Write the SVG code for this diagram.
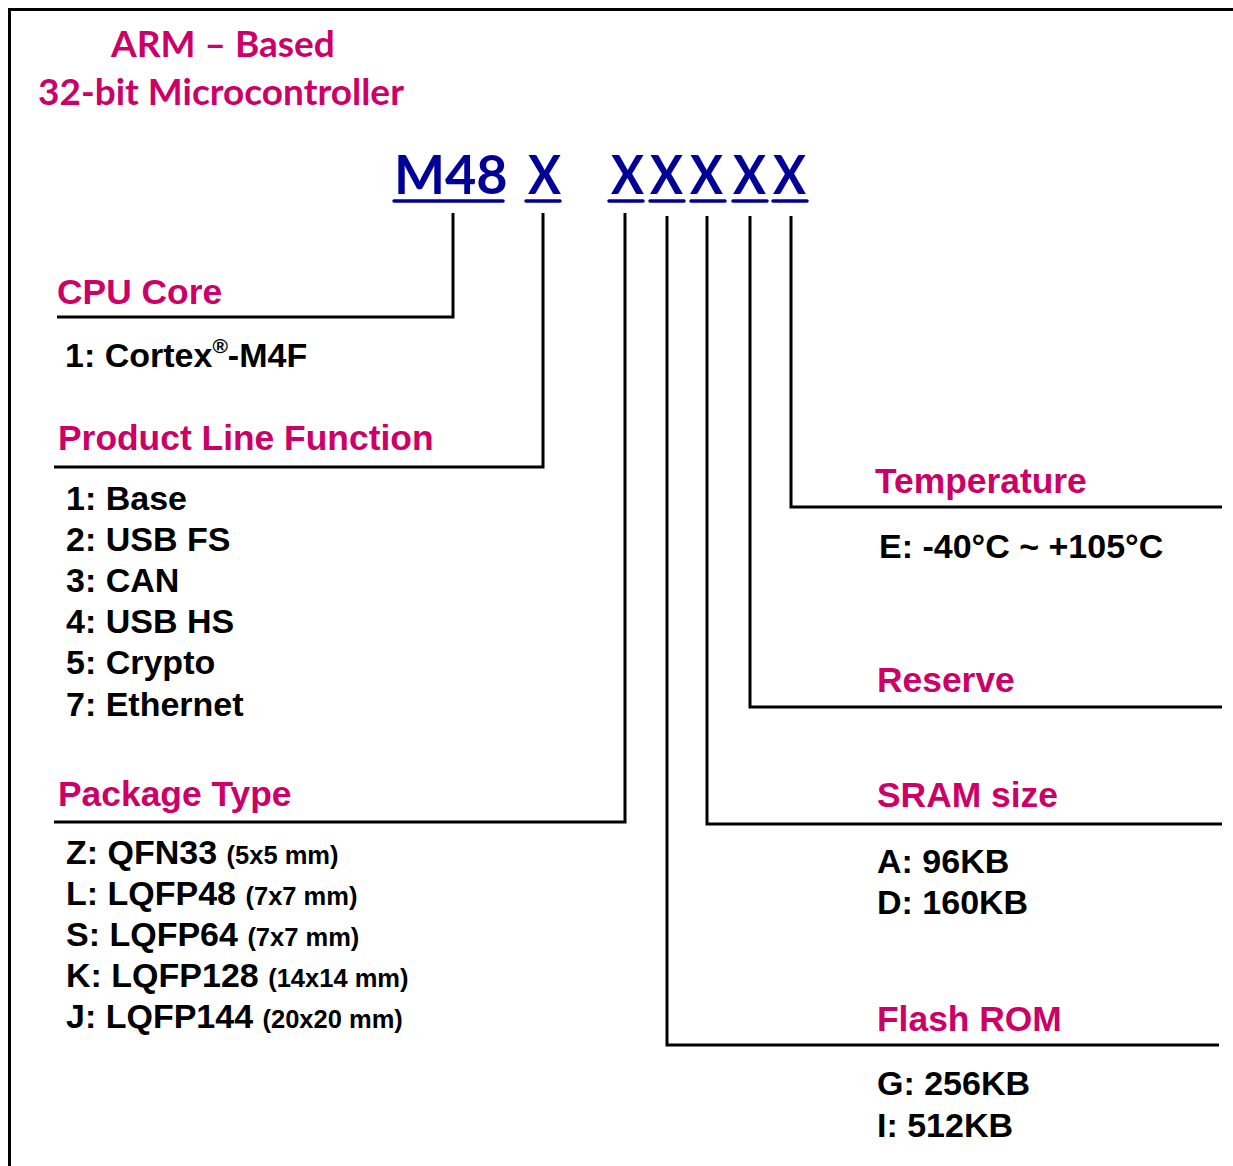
<svg xmlns="http://www.w3.org/2000/svg" width="1233" height="1166" viewBox="0 0 1233 1166">
<style>
.title{font-family:Lato,"Open Sans",sans-serif;font-weight:bold;font-size:37px;fill:#CC0066}
.code{font-family:Lato,"Open Sans",sans-serif;font-weight:bold;font-size:54px;fill:#000099}
.head{font-family:"Liberation Sans",Arial,sans-serif;font-weight:bold;font-size:35.4px;fill:#CC0066}
.body{font-family:"Liberation Sans",Arial,sans-serif;font-weight:bold;font-size:34px;fill:#000}
.sm{font-size:25.5px}
.ul{stroke:#000099;stroke-width:3.5;stroke-linecap:round;fill:none}
.ln{stroke:#000;stroke-width:3;fill:none}
</style>
<rect width="1233" height="1166" fill="#fff"/>
<path d="M9.5,1166 V9.5 H1233" stroke="#000" stroke-width="3" fill="none"/>
<g id="title">
<text class="title" x="111" y="57">ARM – Based</text>
<text class="title" x="38" y="105">32-bit Microcontroller</text>
</g>
<g id="partnumber">
<text class="code" x="394" y="194">M48</text>
<text class="code" x="528" y="194" textLength="33" lengthAdjust="spacingAndGlyphs">X</text>
<text class="code" x="611" y="194" textLength="33" lengthAdjust="spacingAndGlyphs">X</text>
<text class="code" x="650" y="194" textLength="33" lengthAdjust="spacingAndGlyphs">X</text>
<text class="code" x="690" y="194" textLength="33" lengthAdjust="spacingAndGlyphs">X</text>
<text class="code" x="733" y="194" textLength="33" lengthAdjust="spacingAndGlyphs">X</text>
<text class="code" x="773" y="194" textLength="33" lengthAdjust="spacingAndGlyphs">X</text>
<path class="ul" d="M394,201 H503 M526,201 H560 M609,201 H643 M650,201 H684 M691,201 H725 M733,201 H767 M773,201 H807"/>
</g>
<g id="connectors">
<path class="ln" d="M453,213 V317 H57"/>
<path class="ln" d="M543,213 V467 H54"/>
<path class="ln" d="M625,213 V822 H54"/>
<path class="ln" d="M667,216 V1045 H1219"/>
<path class="ln" d="M707,216 V824 H1222"/>
<path class="ln" d="M750,216 V707 H1222"/>
<path class="ln" d="M791,216 V507 H1222"/>
</g>
<g id="cpu-core">
<text class="head" x="57" y="304">CPU Core</text>
<text class="body" x="65" y="367">1: Cortex<tspan font-size="21" dy="-14">®</tspan><tspan dy="14">-M4F</tspan></text>
</g>
<g id="product-line">
<text class="head" x="58" y="450">Product Line Function</text>
<text class="body" x="66" y="510">1: Base</text>
<text class="body" x="66" y="551">2: USB FS</text>
<text class="body" x="66" y="592">3: CAN</text>
<text class="body" x="66" y="633">4: USB HS</text>
<text class="body" x="66" y="674">5: Crypto</text>
<text class="body" x="66" y="716">7: Ethernet</text>
</g>
<g id="package">
<text class="head" x="58" y="806">Package Type</text>
<text class="body" x="66" y="864">Z: QFN33 <tspan class="sm">(5x5 mm)</tspan></text>
<text class="body" x="66" y="905">L: LQFP48 <tspan class="sm">(7x7 mm)</tspan></text>
<text class="body" x="66" y="946">S: LQFP64 <tspan class="sm">(7x7 mm)</tspan></text>
<text class="body" x="66" y="987">K: LQFP128 <tspan class="sm">(14x14 mm)</tspan></text>
<text class="body" x="66" y="1028">J: LQFP144 <tspan class="sm">(20x20 mm)</tspan></text>
</g>
<g id="temperature">
<text class="head" x="875" y="493">Temperature</text>
<text class="body" x="879" y="558">E: -40°C ~ +105°C</text>
</g>
<g id="reserve">
<text class="head" x="877" y="692">Reserve</text>
</g>
<g id="sram">
<text class="head" x="877" y="807">SRAM size</text>
<text class="body" x="877" y="873">A: 96KB</text>
<text class="body" x="877" y="914">D: 160KB</text>
</g>
<g id="flash">
<text class="head" x="877" y="1031">Flash ROM</text>
<text class="body" x="877" y="1095">G: 256KB</text>
<text class="body" x="877" y="1137">I: 512KB</text>
</g>
</svg>
